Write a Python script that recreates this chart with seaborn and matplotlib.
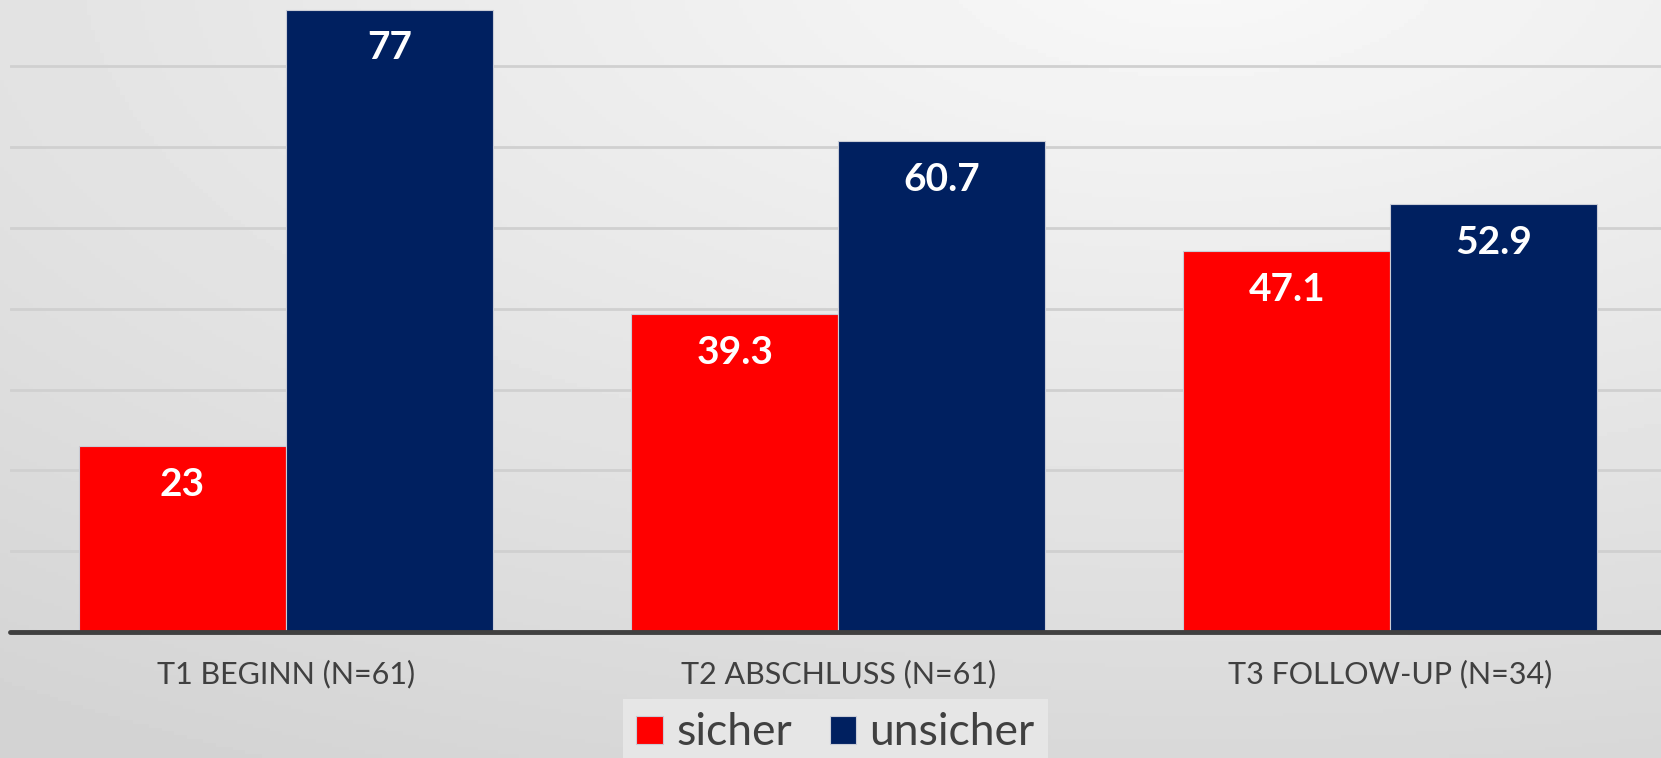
import numpy as np
import pandas as pd
import matplotlib.pyplot as plt
import seaborn as sns
from matplotlib.patches import Patch

# values
zeitpunkte = ["T1 BEGINN (N=61)", "T2 ABSCHLUSS (N=61)", "T3 FOLLOW-UP (N=34)"]
sicher = [23, 39.3, 47.1]
unsicher = [77, 60.7, 52.9]
gruppen = ["sicher", "unsicher"]
farben = ["#ff0000", "#002060"]

df = pd.DataFrame({
    "Zeitpunkt": zeitpunkte * 2,
    "Gruppe": ["sicher"] * 3 + ["unsicher"] * 3,
    "Prozent": sicher + unsicher,
})

sns.set_theme(style="white")
plt.rcParams["font.family"] = ["Lato", "DejaVu Sans"]

fig = plt.figure(figsize=(16.61, 7.58), dpi=100)

# soft radial gradient background (light top right, darker bottom left)
bg = fig.add_axes([0, 0, 1, 1], zorder=-10)
yy, xx = np.mgrid[0:1:200j, 0:1:400j]
r = np.sqrt(((xx - 0.72) * 1.0) ** 2 + ((yy + 0.05) * 1.0) ** 2)
bg.imshow(0.975 - 0.12 * np.clip(r, 0, 1.2), cmap="gray", vmin=0, vmax=1,
          extent=[0, 1, 0, 1], aspect="auto", origin="upper")
bg.axis("off")

ax = fig.add_axes([10 / 1661, 126 / 758, 1 - 10 / 1661, 1 - 126 / 758])
ax.patch.set_alpha(0)

sns.barplot(data=df, x="Zeitpunkt", y="Prozent", hue="Gruppe", order=zeitpunkte,
            hue_order=gruppen, palette=farben, width=0.75, saturation=1,
            edgecolor="#c9ccd6", linewidth=0.8, ax=ax, zorder=3)

ax.set_xlim(-0.5, 2.49)
ax.set_ylim(0, 78.2)
ax.set_yticks(range(10, 80, 10))
ax.set_yticklabels([])
ax.yaxis.grid(True, color="#d0d0d0", linewidth=2, zorder=0)
ax.set_axisbelow(True)
ax.axhline(0, color="#404040", linewidth=3.5, zorder=4, clip_on=False)
for s in ax.spines.values():
    s.set_visible(False)
ax.tick_params(axis="both", length=0)
ax.tick_params(axis="x", pad=20, labelsize=22, labelcolor="#404040")
ax.set_xlabel("")
ax.set_ylabel("")

# value labels inside bars
for cont in ax.containers:
    for rect in cont:
        h = rect.get_height()
        txt = f"{h:g}"
        ax.annotate(txt, (rect.get_x() + rect.get_width() / 2, h),
                    xytext=(0, -38), textcoords="offset pixels",
                    ha="center", va="center", color="white",
                    fontsize=28, fontweight="bold", zorder=5)

ax.get_legend().remove()
handles = [Patch(facecolor=c, edgecolor="#c9ccd6", linewidth=0.8) for c in farben]
leg = fig.legend(handles, gruppen, loc="upper center", bbox_to_anchor=(0.503, 1 - 699 / 758),
                 ncol=2, fontsize=32, frameon=True, fancybox=False,
                 handlelength=0.6, handleheight=0.6, handletextpad=0.3,
                 columnspacing=0.85, borderpad=0.3, borderaxespad=0,
                 labelcolor="#404040")
leg.get_frame().set_facecolor("#e6e6e6")
leg.get_frame().set_edgecolor("none")
leg.get_frame().set_alpha(1)

fig.savefig("out.png", dpi=100)
